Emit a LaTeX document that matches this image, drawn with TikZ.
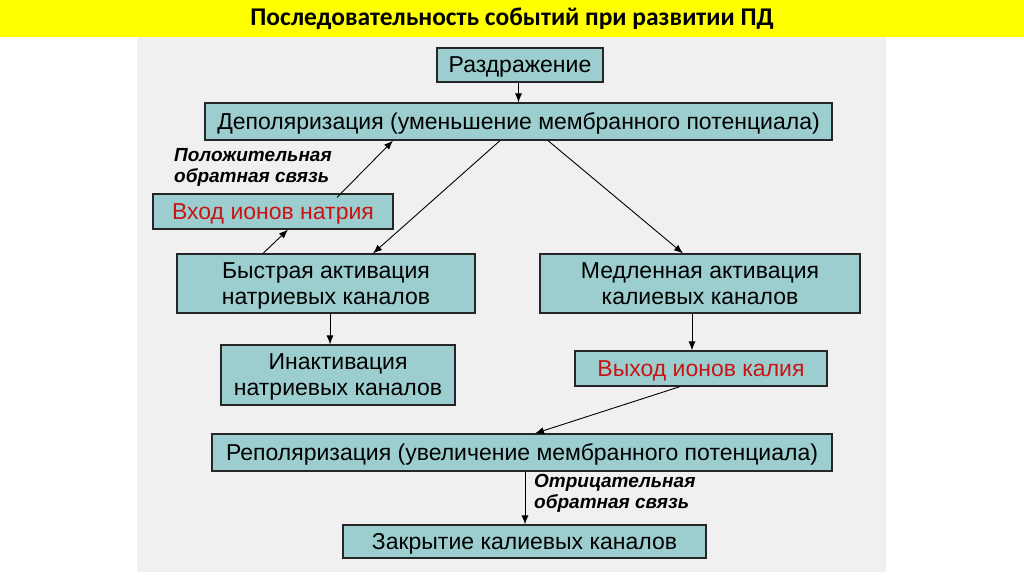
\documentclass[tikz,border=0pt]{standalone}
\usepackage{fontspec}
\setmainfont{Liberation Sans}
\newfontfamily\titlefont{Carlito}
\usetikzlibrary{arrows.meta,positioning}

\definecolor{bandyellow}{RGB}{255,255,0}
\definecolor{panelgray}{RGB}{240,240,240}
\definecolor{stagefill}{RGB}{156,206,207}
\definecolor{ionred}{RGB}{200,20,20}

\tikzset{
  stage/.style={draw=black!85, fill=stagefill, line width=1.2pt, align=center,
    font=\fontsize{23}{26}\selectfont, inner sep=0pt, text depth=0pt},
  ionbox/.style={stage, text=ionred},
  fbnote/.style={align=left, font=\fontsize{19}{21}\selectfont\bfseries\itshape, inner sep=0pt},
  link/.style={->, line width=0.9pt}
}

\begin{document}
\begin{tikzpicture}[x=1pt, y=-1pt, >={Latex[length=9pt,width=7pt]}]

  % Frame
  \useasboundingbox (0,0) rectangle (1024,574);
  \fill[white] (0,0) rectangle (1024,574);
  \fill[panelgray] (137,37) rectangle (886,572);
  \fill[bandyellow] (0,0) rectangle (1024,37);
  \node[font=\titlefont\fontsize{25.5}{28}\selectfont\bfseries] (title) at (512,19)
    {Последовательность событий при развитии ПД};

  % Boxes
  \node[stage, minimum width=166, minimum height=34] (irr) at (520,65) {Раздражение};
  \node[stage, minimum width=627, minimum height=37] (depol) at (518.5,121.5)
    {Деполяризация (уменьшение мембранного потенциала)};
  \node[ionbox, minimum width=240, minimum height=35] (naIn) at (273,211.5) {Вход ионов натрия};
  \node[stage, minimum width=298, minimum height=59] (fastNa) at (326,283.5)
    {Быстрая активация\\натриевых каналов};
  \node[stage, minimum width=320, minimum height=59] (slowK) at (700,283.5)
    {Медленная активация\\калиевых каналов};
  \node[stage, minimum width=234, minimum height=60] (inact) at (338,375)
    {Инактивация\\натриевых каналов};
  \node[ionbox, minimum width=252, minimum height=35] (kOut) at (701,368.5) {Выход ионов калия};
  \node[stage, minimum width=620, minimum height=37] (repol) at (522,452.5)
    {Реполяризация (увеличение мембранного потенциала)};
  \node[stage, minimum width=363, minimum height=33] (close) at (524.5,541.5)
    {Закрытие калиевых каналов};

  % Feedback notes
  \node[fbnote, anchor=west] (posfb) at (174,167) {Положительная\\обратная связь};
  \node[fbnote, anchor=west] (negfb) at (534,493) {Отрицательная\\обратная связь};

  % Arrows
  \draw[link] (irr.south -| depol.north) -- (depol.north);
  \draw[link] ([xshift=-63pt]fastNa.north) -- ([xshift=15pt]naIn.south);
  \draw[link] ([xshift=64pt,yshift=-4pt]naIn.north) -- ([xshift=-125.5pt]depol.south);
  \draw[link] ([xshift=-18.5pt]depol.south) -- ([xshift=47pt]fastNa.north);
  \draw[link] ([xshift=29.5pt]depol.south) -- ([xshift=-17pt]slowK.north);
  \draw[link] ([xshift=4pt]fastNa.south) -- ([xshift=4pt]fastNa.south |- inact.north);
  \draw[link] ([xshift=-8pt]slowK.south) -- ([xshift=-8pt]slowK.south |- kOut.north);
  \draw[link] ([xshift=-21pt]kOut.south) -- ([xshift=13pt]repol.north);
  \draw[link] ([xshift=3pt]repol.south) -- ([xshift=3pt]repol.south |- close.north);
\end{tikzpicture}
\end{document}
